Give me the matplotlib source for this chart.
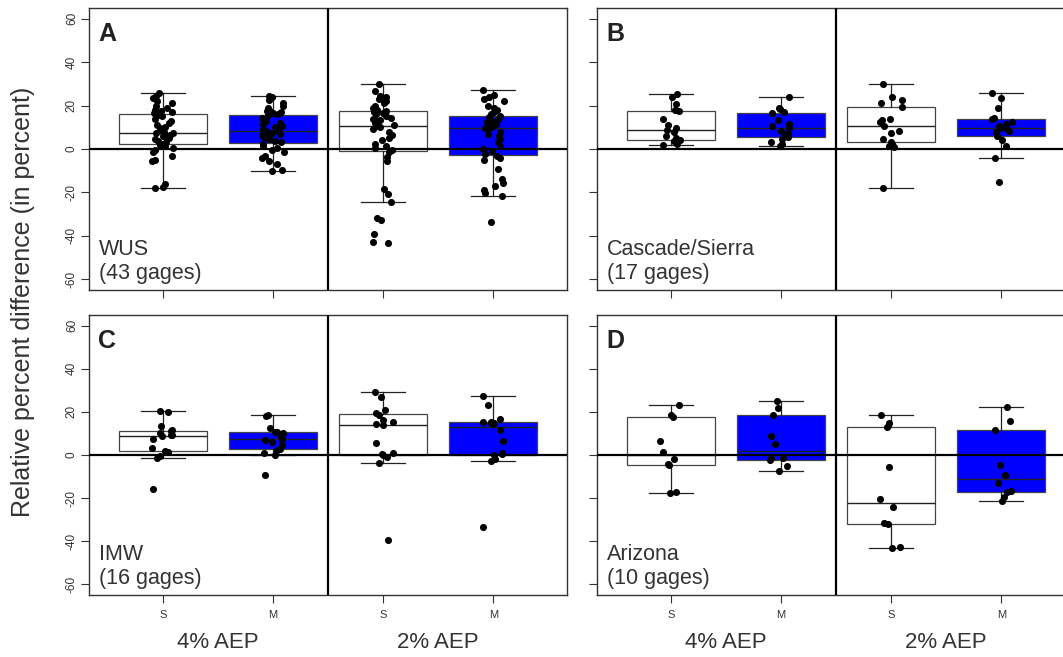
import numpy as np
import matplotlib.pyplot as plt

plt.rcParams['font.family'] = ['Liberation Sans', 'DejaVu Sans']

# relative percent difference per gage: S = station, M = model estimate
wus_s4 = [-18, -17.5, -16, -5.5, -5, -3, -1.5, -0.5, 0.5, 1.2, 2.0,
          2.5, 3, 3.8, 4.5, 5, 5.5, 6, 6.5, 7, 7.3, 7.5,
          8, 8.5, 9.5, 10, 11, 12, 13, 14, 15, 15.8,
          16.5, 17, 17.5, 18, 19, 20, 21, 22, 23.5, 24.5, 25.6]
wus_m4 = [-10, -9.5, -7, -5.5, -4, -3, -1.5, -0.5, 0.5, 1.5, 2.5,
          3.3, 3.8, 4.5, 5, 5.5, 6, 6.5, 7, 7.5, 7.9, 8.1,
          8.5, 9, 10, 10.5, 11.5, 12, 13, 14, 14.5, 15.5,
          16, 16.5, 17, 17.5, 18, 19, 20, 21, 22.5, 23.8, 24.5]
wus_s2 = [-43.5, -43, -39, -32.5, -32, -24.4, -20.7, -18.4, -5.4, -3.8, -1.2,
          -0.5, 0.5, 1.5, 2.5, 4, 5, 6.5, 8, 9, 10, 10.6,
          11, 12, 13, 13.5, 14, 14.5, 15, 16, 16.5, 17,
          17.6, 18, 19, 20, 21, 22, 23, 24, 24.5, 26.8, 29.9]
wus_m2 = [-33.7, -21.5, -20.5, -19, -17, -15.5, -14, -9.2, -5, -4, -3,
          -2.2, -1, 0, 1.5, 3, 4.5, 6, 7, 8, 9, 9.5,
          10, 10.5, 11, 11.5, 12, 12.5, 13, 13.5, 14, 14.8,
          15.2, 16, 17, 18, 19, 20, 22, 23, 23.8, 25, 27.1]

cas_s4 = [1.8, 2.5, 3.1, 3.8, 4.3, 5.0, 6.1, 7.7, 8.9, 9.5, 11, 14, 17.3, 17.8, 20.7, 24.1, 25.3]
cas_m4 = [1.2, 2.5, 3.1, 4.6, 5.7, 6.5, 6.9, 8.4, 9.5, 10.5, 11.5, 13.5, 16.6, 16.9, 18.4, 18.9, 23.8]
cas_s2 = [-18.1, 0.8, 1.5, 2.5, 3.4, 4.6, 7.2, 8.4, 10.6, 12.5, 13.3, 13.8, 19.5, 21, 22.5, 24.1, 29.9]
cas_m2 = [-15, -4.1, 1.2, 4.3, 6.0, 7.7, 8.5, 9.2, 9.7, 10.5, 11.5, 12.3, 14.0, 14.3, 18.9, 23.3, 25.6]

imw_s4 = [-15.8, -1.2, -0.5, 1.5, 2.0, 3.1, 7.2, 8.8, 9.2, 9.5, 10.3, 11.2, 11.5, 13.3, 19.8, 20.6]
imw_m4 = [-9.4, 0.0, 0.8, 2.5, 3.0, 4.5, 6.0, 7.0, 7.4, 8.5, 10.0, 10.5, 10.7, 12.6, 18.0, 18.4]
imw_s2 = [-39.3, -3.8, -0.9, 0.0, 0.4, 1.0, 5.7, 13.8, 14.4, 15.5, 16.4, 18.8, 19.4, 21.0, 26.7, 29.3]
imw_m2 = [-33.6, -2.8, -1.7, 0.0, 0.4, 0.8, 6.7, 11.5, 14.3, 14.8, 15.0, 15.2, 15.5, 16.7, 23.3, 27.5]

az_s4 = [-17.5, -17.0, -4.6, -4.1, -1.8, 1.5, 6.6, 17.8, 18.8, 23.4]
az_m4 = [-7.2, -5.2, -2.2, -1.5, -1.4, 5.1, 8.9, 18.4, 21.6, 25.0]
az_s2 = [-43.1, -42.8, -31.9, -31.5, -24.2, -20.4, -5.4, 12.9, 14.9, 18.7]
az_m2 = [-21.5, -19.6, -17.3, -16.9, -13.2, -9.2, -4.8, 11.8, 15.6, 22.1]

letters = ['A', 'B', 'C', 'D']
regions = ['WUS\n(43 gages)', 'Cascade/Sierra\n(17 gages)', 'IMW\n(16 gages)', 'Arizona\n(10 gages)']
groups = [[wus_s4, wus_m4, wus_s2, wus_m2],
          [cas_s4, cas_m4, cas_s2, cas_m2],
          [imw_s4, imw_m4, imw_s2, imw_m2],
          [az_s4, az_m4, az_s2, az_m2]]
box_labels = ['S', 'M', 'S', 'M']
aep_labels = ['4% AEP', '2% AEP']
yticks = [-60, -40, -20, 0, 20, 40, 60]


def box_stats(v):
    # Tukey hinges and 1.5*IQR whiskers, like R's boxplot.stats
    x = np.sort(np.asarray(v, dtype=float))
    n = len(x)
    n4 = np.floor((n + 3) / 2) / 2
    d = np.array([1, n4, (n + 1) / 2, n + 1 - n4, n]) - 1
    f = 0.5 * (x[np.floor(d).astype(int)] + x[np.ceil(d).astype(int)])
    iqr = f[3] - f[1]
    lo = x[x >= f[1] - 1.5 * iqr].min()
    hi = x[x <= f[3] + 1.5 * iqr].max()
    return dict(med=f[2], q1=f[1], q3=f[3], whislo=lo, whishi=hi, fliers=[])


W, H = 1063.0, 657.0
# panel rectangles in pixels: left, top, width, height
rects = [(89, 8, 478, 282), (597, 8, 478, 282),
         (89, 315, 478, 280), (597, 315, 478, 280)]

fig = plt.figure(figsize=(W / 100, H / 100), dpi=100)
rng = np.random.default_rng(11)
pos = [1, 2, 3, 4]
grey = '#333333'

for i in range(4):
    l, t, w, h = rects[i]
    ax = fig.add_axes([l / W, 1 - (t + h) / H, w / W, h / H])
    stats = [box_stats(g) for g in groups[i]]
    bp = ax.bxp(stats, positions=pos, widths=0.8, capwidths=0.4,
                patch_artist=True, showfliers=False,
                boxprops=dict(edgecolor='#444444', linewidth=0.9),
                medianprops=dict(color='#222222', linewidth=1.0),
                whiskerprops=dict(color='#222222', linewidth=0.9),
                capprops=dict(color='#222222', linewidth=0.9))
    for k, patch in enumerate(bp['boxes']):
        patch.set_facecolor('white' if k % 2 == 0 else '#0000FF')

    ax.axhline(0, color='black', lw=1.6, zorder=3)
    ax.axvline(2.5, color='black', lw=1.6, zorder=3)

    for k, g in enumerate(groups[i]):
        xs = pos[k] + rng.uniform(-0.1, 0.1, len(g))
        ax.scatter(xs, g, s=26, color='black', zorder=5, linewidths=0)

    ax.set_xlim(0.33, 4.67)
    ax.set_ylim(-65, 65)
    ax.set_yticks(yticks)
    ax.set_xticks(pos)
    ax.tick_params(length=6, width=0.8, color=grey, labelcolor=grey, labelsize=8.5)
    if i % 2 == 0:
        ax.set_yticklabels([str(v) for v in yticks], rotation=90, va='center')
        ax.tick_params(axis='y', pad=2)
    else:
        ax.set_yticklabels([])
    if i >= 2:
        ax.set_xticklabels(box_labels, fontsize=8)
        ax.tick_params(axis='x', pad=5)
        for j, xc in enumerate([1.5, 3.5]):
            ax.text(xc, -0.171, aep_labels[j], transform=ax.get_xaxis_transform(),
                    ha='center', va='center', fontsize=16, color=grey)
    else:
        ax.set_xticklabels([])
    for sp in ax.spines.values():
        sp.set_color(grey)
        sp.set_linewidth(1.0)

    ax.text(0.019, 0.95, letters[i], transform=ax.transAxes, ha='left', va='top',
            fontsize=18, fontweight='bold', color='#222222')
    ax.text(0.021, 0.022, regions[i], transform=ax.transAxes, ha='left', va='bottom',
            fontsize=15.5, color=grey, linespacing=1.15)

fig.text(0.022, 1 - 301.5 / H, 'Relative percent difference (in percent)',
         rotation=90, ha='center', va='center', fontsize=18, color=grey)

fig.savefig('out.png', dpi=100)
